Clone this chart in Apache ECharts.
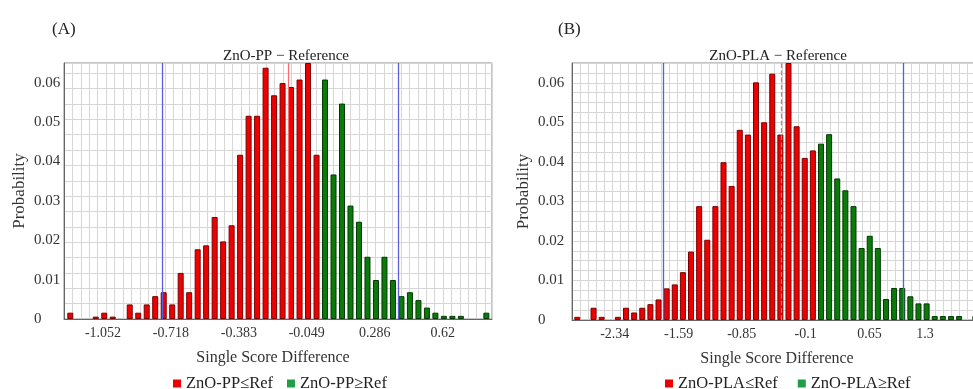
<!DOCTYPE html>
<html><head><meta charset="utf-8">
<script src="https://cdn.jsdelivr.net/npm/echarts@6/dist/echarts.min.js"></script>
<style>html,body{margin:0;padding:0;background:#fff}#c{width:973px;height:389px}</style>
</head><body><div id="c"></div>
<script>
// ---- data (probability per histogram bin) ----
const ppRed = [0.0016,0,0,0.0006,0.0016,0.0006,0,0.0037,0.0016,0.0037,
  0.0058,0.0068,0.0037,0.0117,0.0068,0.0177,0.0187,0.0259,0.0197,0.0238,
  0.0417,0.0516,0.0516,0.0638,0.0568,0.0599,0.0589,0.0608,0.065,0.0417];
const ppGreen = [0.0608,0.0367,0.0547,0.0288,0.0247,0.0158,0.0099,0.0158,0.0099,0.0058,
  0.0068,0.0048,0.0029,0.0016,0.0008,0.0008,0.0008,0,0,0.0016];
const plaRed = [0.0008,0,0.0031,0.0008,0,0.0008,0.0031,0.0019,0.0031,0.0040,
  0.0052,0.0080,0.0090,0.0121,0.0173,0.0288,0.0203,0.0288,0.0399,0.0339,
  0.0481,0.0469,0.0601,0.0500,0.0623,0.0469,0.065,0.0490,0.0410,0.0429];
const plaGreen = [0.0446,0.0470,0.0358,0.0328,0.0288,0.0182,0.0213,0.0182,0.0053,0.0081,
  0.0081,0.0060,0.0042,0.0042,0.0010,0.0010,0.0010,0.0010,0,0.0010];
// histogram bin definitions (centre of first bin, bin width)
const ppBinFirst = -1.213, ppBinWidth = 0.0418;
const plaBinFirst = -2.779, plaBinWidth = 0.0953;
// tick labels
const ppTicks = ['-1.052','-0.718','-0.383','-0.049','0.286','0.62'];
const plaTicks = ['-2.34','-1.59','-0.85','-0.1','0.65','1.3'];
const yTicks = [0,0.01,0.02,0.03,0.04,0.05,0.06];
// reference lines (lower / upper bound, mean)
const ppMarks = [-0.763, 0.402, -0.141];
const plaMarks = [-1.767, 1.039, -0.391];
const ppNames = ['ZnO-PP\u2264Ref','ZnO-PP\u2265Ref'];
const plaNames = ['ZnO-PLA\u2264Ref','ZnO-PLA\u2265Ref'];

function bins(values, offset, first, width){
  return values.map((v,i)=>[first+(i+offset)*width, v]).filter(p=>p[1]>0);
}
const SERIF = '"Liberation Serif", "DejaVu Serif", serif';
const RED = '#ee0000', REDB = '#7a0000', GREEN = '#0b7a0b', GREENB = '#003a00';
const BLUE = '#5c5cdc';

function xAxis(idx, min, max, step, ticks, padRight){
  return {type:'value', gridIndex:idx, min:min, max:max, interval:step,
    name:'Single Score Difference', nameLocation:'middle', nameGap:31,
    nameTextStyle:{fontFamily:SERIF, fontSize:16, color:'#333', padding:[0,padRight,0,0]},
    axisLine:{show:true, onZero:false, lineStyle:{color:'#666'}}, axisTick:{show:false},
    axisLabel:{customValues:ticks.map(Number), formatter:v=>String(v),
      fontFamily:SERIF, fontSize:14, color:'#333', margin:7},
    splitLine:{show:true, lineStyle:{color:'#d6d6d6', width:1}}};
}
function yAxis(idx, step, margin, gap){
  return {type:'value', gridIndex:idx, min:0, max:0.065, interval:step,
    name:'Probability', nameLocation:'middle', nameGap:gap,
    nameTextStyle:{fontFamily:SERIF, fontSize:17, color:'#333'},
    axisLine:{show:true, onZero:false, lineStyle:{color:'#666'}}, axisTick:{show:false},
    axisLabel:{customValues:yTicks, formatter:v=>String(v), align:'left', margin:margin,
      fontFamily:SERIF, fontSize:15, color:'#333'},
    splitLine:{show:true, lineStyle:{color:'#d6d6d6', width:1}}};
}
function marks(m, dashed){
  return {silent:true, symbol:['none','none'], label:{show:false}, animation:false,
    data:[{xAxis:m[0], lineStyle:{color:BLUE, width:1.3, type:'solid'}},
          {xAxis:m[1], lineStyle:{color:BLUE, width:1.3, type:'solid'}},
          {xAxis:m[2], lineStyle:{color:'#ff6a6a', width:1.2, type: dashed?'dashed':'solid'}}]};
}
function barSeries(name, idx, data, color, border, mk){
  const s = {name:name, type:'bar', xAxisIndex:idx, yAxisIndex:idx, data:data,
    barWidth:6, barGap:'-100%', itemStyle:{color:color, borderColor:border, borderWidth:1}};
  if (mk) s.markLine = mk;
  return s;
}
const legendText = {fontFamily:SERIF, fontSize:16.5, color:'#222'};

const chart = echarts.init(document.getElementById('c'), null, {renderer:'canvas'});
chart.setOption({
  animation:false,
  backgroundColor:'#fff',
  title:[
    {text:'(A)', left:47, top:16, textStyle:{fontFamily:SERIF, fontSize:17, fontWeight:'normal', color:'#222'}},
    {text:'(B)', left:553, top:16, textStyle:{fontFamily:SERIF, fontSize:17, fontWeight:'normal', color:'#222'}},
    {text:'ZnO-PP \u2212 Reference', left:281, top:44, textAlign:'center',
      textStyle:{fontFamily:SERIF, fontSize:15, fontWeight:'normal', color:'#222'}},
    {text:'ZnO-PLA \u2212 Reference', left:773, top:44, textAlign:'center',
      textStyle:{fontFamily:SERIF, fontSize:15, fontWeight:'normal', color:'#222'}}
  ],
  legend:[
    {data:[{name:ppNames[0], itemStyle:{color:'#ee0000', borderWidth:0}},
           {name:ppNames[1], itemStyle:{color:'#1f9e45', borderWidth:0}}],
     left:168, top:370, icon:'rect', itemWidth:8, itemHeight:8, itemGap:14, textStyle:legendText},
    {data:[{name:plaNames[0], itemStyle:{color:'#ee0000', borderWidth:0}},
           {name:plaNames[1], itemStyle:{color:'#1f9e45', borderWidth:0}}],
     left:660, top:370, icon:'rect', itemWidth:8, itemHeight:8, itemGap:20, textStyle:legendText}
  ],
  grid:[
    {left:64, top:63, width:428, height:256, show:true, borderColor:'#8a8a8a', borderWidth:1,
     outerBoundsMode:'none'},
    {left:572, top:63, width:428, height:257, show:true, borderColor:'#8a8a8a', borderWidth:1,
     outerBoundsMode:'none'}
  ],
  xAxis:[
    xAxis(0, -1.244, 0.863, 1.244/30, ppTicks, 10),
    xAxis(1, -2.841, 2.18, 2.841/30, plaTicks, 18)
  ],
  yAxis:[
    yAxis(0, 0.0039, 30, 36),
    yAxis(1, 0.0025, 34, 40)
  ],
  series:[
    barSeries(ppNames[0], 0, bins(ppRed, 0, ppBinFirst, ppBinWidth), RED, REDB, marks(ppMarks, false)),
    barSeries(ppNames[1], 0, bins(ppGreen, ppRed.length, ppBinFirst, ppBinWidth), GREEN, GREENB),
    barSeries(plaNames[0], 1, bins(plaRed, 0, plaBinFirst, plaBinWidth), RED, REDB, marks(plaMarks, true)),
    barSeries(plaNames[1], 1, bins(plaGreen, plaRed.length, plaBinFirst, plaBinWidth), GREEN, GREENB)
  ]
});
</script></body></html>
